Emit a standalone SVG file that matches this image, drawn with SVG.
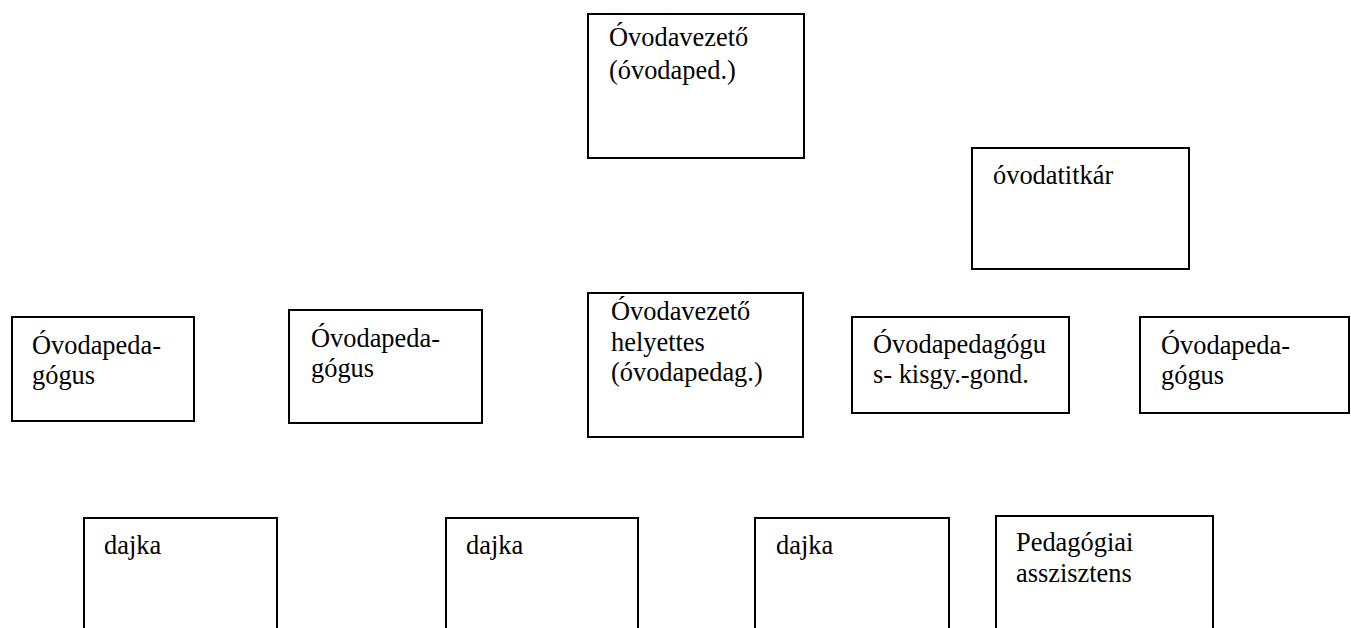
<svg xmlns="http://www.w3.org/2000/svg" width="1351" height="628" viewBox="0 0 1351 628">
<style>
.box{fill:#fff;stroke:#000;stroke-width:2}
.t{font-family:'Liberation Serif',Tinos,'Times New Roman',Times,'DejaVu Serif',serif;font-size:26.4px;fill:#000}
</style>
<rect width="1351" height="628" fill="#fff"/>
<g id="connectors"></g>
<g id="ovodavezeto">
<rect class="box" x="588" y="14" width="216" height="144"/>
<text class="t" x="609" y="45.5">Óvodavezető</text>
<text class="t" x="609" y="78.5">(óvodaped.)</text>
</g>
<g id="ovodatitkar">
<rect class="box" x="972" y="148" width="217" height="121"/>
<text class="t" x="993" y="183.5">óvodatitkár</text>
</g>
<g id="ovodapedagogus1">
<rect class="box" x="12" y="317" width="182" height="104"/>
<text class="t" x="32" y="353.5">Óvodapeda-</text>
<text class="t" x="32" y="383.5">gógus</text>
</g>
<g id="ovodapedagogus2">
<rect class="box" x="289" y="310" width="193" height="113"/>
<text class="t" x="311" y="347">Óvodapeda-</text>
<text class="t" x="311" y="376.5">gógus</text>
</g>
<g id="helyettes">
<rect class="box" x="588" y="293" width="215" height="144"/>
<text class="t" x="611" y="320">Óvodavezető</text>
<text class="t" x="611" y="350.5">helyettes</text>
<text class="t" x="611" y="380.5">(óvodapedag.)</text>
</g>
<g id="kisgyermekgondozo">
<rect class="box" x="852" y="317" width="217" height="96"/>
<text class="t" x="873" y="353">Óvodapedagógu</text>
<text class="t" x="873" y="383">s- kisgy.-gond.</text>
</g>
<g id="ovodapedagogus3">
<rect class="box" x="1140" y="317" width="209" height="96"/>
<text class="t" x="1161" y="354">Óvodapeda-</text>
<text class="t" x="1161" y="384">gógus</text>
</g>
<g id="dajka1">
<rect class="box" x="84" y="518" width="193" height="115"/>
<text class="t" x="104" y="554">dajka</text>
</g>
<g id="dajka2">
<rect class="box" x="446" y="518" width="192" height="115"/>
<text class="t" x="466" y="554">dajka</text>
</g>
<g id="dajka3">
<rect class="box" x="755" y="518" width="194" height="115"/>
<text class="t" x="776" y="554">dajka</text>
</g>
<g id="pedagogiai-asszisztens">
<rect class="box" x="996" y="516" width="217" height="117"/>
<text class="t" x="1016" y="551">Pedagógiai</text>
<text class="t" x="1016" y="581.5">asszisztens</text>
</g>
</svg>
